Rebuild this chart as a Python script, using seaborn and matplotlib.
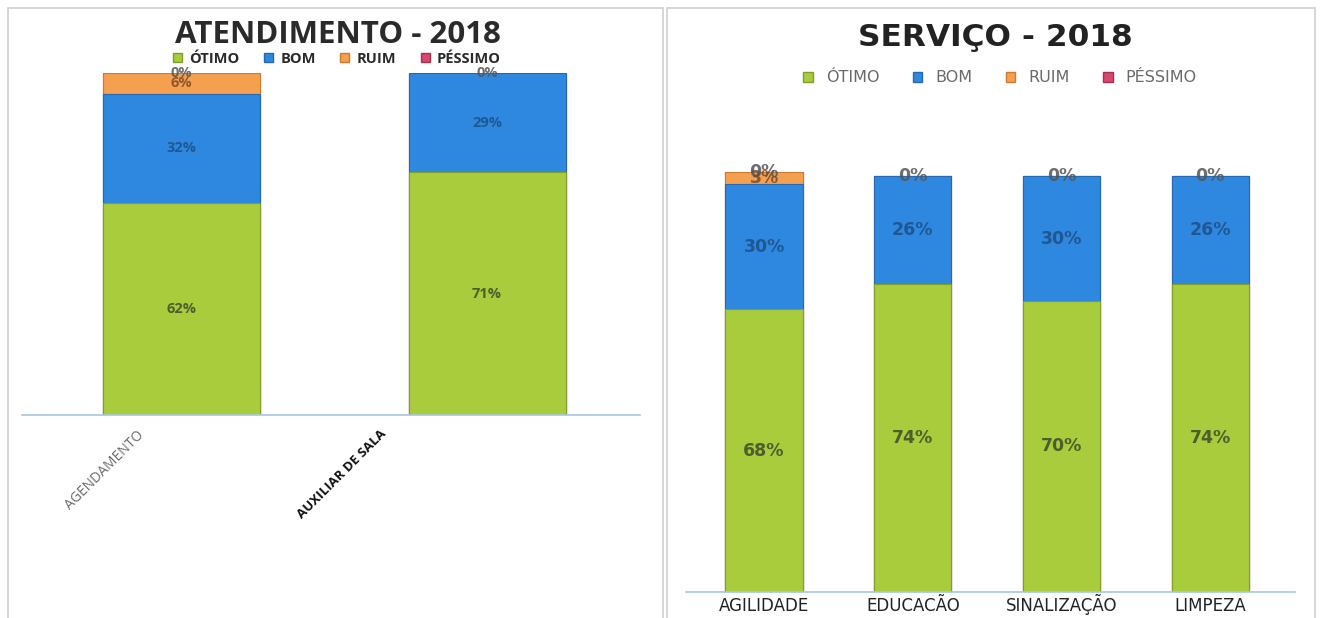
import matplotlib.pyplot as plt
import seaborn as sns
import pandas as pd
from matplotlib.patches import Patch, Rectangle
from matplotlib.transforms import ScaledTranslation


LEVELS = ["ÓTIMO", "BOM", "RUIM", "PÉSSIMO"]
COLORS = ["#a8cc3c", "#2f88df", "#f4a04e", "#d8476f"]
EDGES = ["#7f9e2a", "#2669b0", "#d07a30", "#a8304f"]

ATEND_CATS = ["AGENDAMENTO", "AUXILIAR DE SALA"]
ATEND_OTIMO = [62, 71]
ATEND_BOM = [32, 29]
ATEND_RUIM = [6, 0]
ATEND_PESSIMO = [0, 0]

SERV_CATS = ["AGILIDADE", "EDUCACÃO", "SINALIZAÇÃO", "LIMPEZA"]
SERV_OTIMO = [68, 74, 70, 74]
SERV_BOM = [30, 26, 30, 26]
SERV_RUIM = [3, 0, 0, 0]
SERV_PESSIMO = [0, 0, 0, 0]


def stacked(ax, cats, series, width, font, fsize):
    df = pd.DataFrame(dict(zip(LEVELS, series)), index=cats)
    cum = df.cumsum(axis=1)
    # draw the cumulative totals from the tallest down so the stack shows
    for i in reversed(range(len(LEVELS))):
        lvl = LEVELS[i]
        sns.barplot(x=cats, y=cum[lvl].values, order=cats, color=COLORS[i],
                    saturation=1, width=width, edgecolor=EDGES[i],
                    linewidth=0.8, ax=ax)
    label_colors = ["#3e4a2c", "#1d4f85", "#7a4a2a", "#555555"]
    for j, cat in enumerate(cats):
        base = 0
        for i, lvl in enumerate(LEVELS):
            v = df.loc[cat, lvl]
            if v == 0 and lvl != "PÉSSIMO":
                continue
            ax.text(j, base + v / 2, f"{v}%", ha="center", va="center",
                    fontsize=fsize, fontweight="bold", family=font,
                    color=label_colors[i], alpha=0.85)
            base += v
    for s in ["top", "left", "right"]:
        ax.spines[s].set_visible(False)
    ax.spines["bottom"].set_color("#a9c6de")
    ax.spines["bottom"].set_linewidth(1.2)
    ax.set_yticks([])
    ax.set_ylabel("")
    ax.tick_params(axis="x", length=0)
    ax.set_facecolor("white")


fig = plt.figure(figsize=(13.2, 6.18), dpi=100)
fig.patch.set_facecolor("white")

# panel frames
fig.patches.append(Rectangle((8 / 1320, -0.01), 655 / 1320, 1 - 8 / 618 + 0.01,
                             transform=fig.transFigure, fill=False,
                             edgecolor="#cfcfcf", linewidth=1.2))
fig.patches.append(Rectangle((667 / 1320, -0.01), 648 / 1320, 1 - 8 / 618 + 0.01,
                             transform=fig.transFigure, fill=False,
                             edgecolor="#cfcfcf", linewidth=1.2))

# left chart
ax1 = fig.add_axes([22 / 1320, (618 - 415) / 618, 618 / 1320, 342 / 618])
stacked(ax1, ATEND_CATS,
        [ATEND_OTIMO, ATEND_BOM, ATEND_RUIM, ATEND_PESSIMO],
        0.513, "Open Sans", 10.5)
ax1.set_ylim(0, 100)
ax1.set_xlim(-0.52, 1.5)
ax1.set_xticks(range(len(ATEND_CATS)))
ax1.set_xticklabels(ATEND_CATS, rotation=45, ha="right",
                    rotation_mode="anchor", fontsize=10, family="Open Sans")
ax1.tick_params(axis="x", pad=9)
shifts = [-0.45, -1.07]
tick_cols = ["#6a6a6a", "#111111"]
tick_wts = ["normal", "bold"]
tick_sizes = [10, 9.5]
for lab, dx, c, w, fs in zip(ax1.get_xticklabels(), shifts, tick_cols, tick_wts, tick_sizes):
    lab.set_transform(lab.get_transform() + ScaledTranslation(dx, 0, fig.dpi_scale_trans))
    lab.set_color(c)
    lab.set_fontweight(w)
    lab.set_fontsize(fs)

fig.text(338 / 1320, 1 - 35 / 618, "ATENDIMENTO - 2018", ha="center",
         va="center", fontsize=22.5, fontweight="bold", family="Open Sans",
         color="#2a2a2a")
h1 = [Patch(facecolor=c, edgecolor=e) for c, e in zip(COLORS, EDGES)]
fig.legend(h1, LEVELS, loc="center", bbox_to_anchor=(337 / 1320, 1 - 59 / 618),
           ncol=4, frameon=False, handlelength=0.6, handleheight=0.6,
           columnspacing=1.7, handletextpad=0.5, labelcolor="#2a2a2a",
           prop={"family": "Open Sans", "weight": "bold", "size": 10.5})

# right chart
ax2 = fig.add_axes([686 / 1320, (618 - 592) / 618, 609 / 1320, 420 / 618])
stacked(ax2, SERV_CATS,
        [SERV_OTIMO, SERV_BOM, SERV_RUIM, SERV_PESSIMO],
        0.52, "DejaVu Sans", 12.5)
ax2.set_ylim(0, 101)
ax2.set_xlim(-0.525, 3.57)
ax2.set_xticks(range(len(SERV_CATS)))
ax2.set_xticklabels(SERV_CATS, fontsize=12, family="DejaVu Sans",
                    color="#222222", va="baseline")
ax2.tick_params(axis="x", pad=14)

fig.text(995 / 1320, 1 - 38 / 618, "SERVIÇO - 2018", ha="center",
         va="center", fontsize=22.5, fontweight="bold", family="DejaVu Sans",
         color="#222222")
fig.legend(h1, LEVELS, loc="center", bbox_to_anchor=(1000 / 1320, 1 - 78 / 618),
           ncol=4, frameon=False, handlelength=0.6, handleheight=0.6,
           columnspacing=2.1, handletextpad=0.8, labelcolor="#6a6a6a",
           prop={"family": "DejaVu Sans", "size": 11.5})

fig.savefig("out.png", dpi=100, facecolor="white")
